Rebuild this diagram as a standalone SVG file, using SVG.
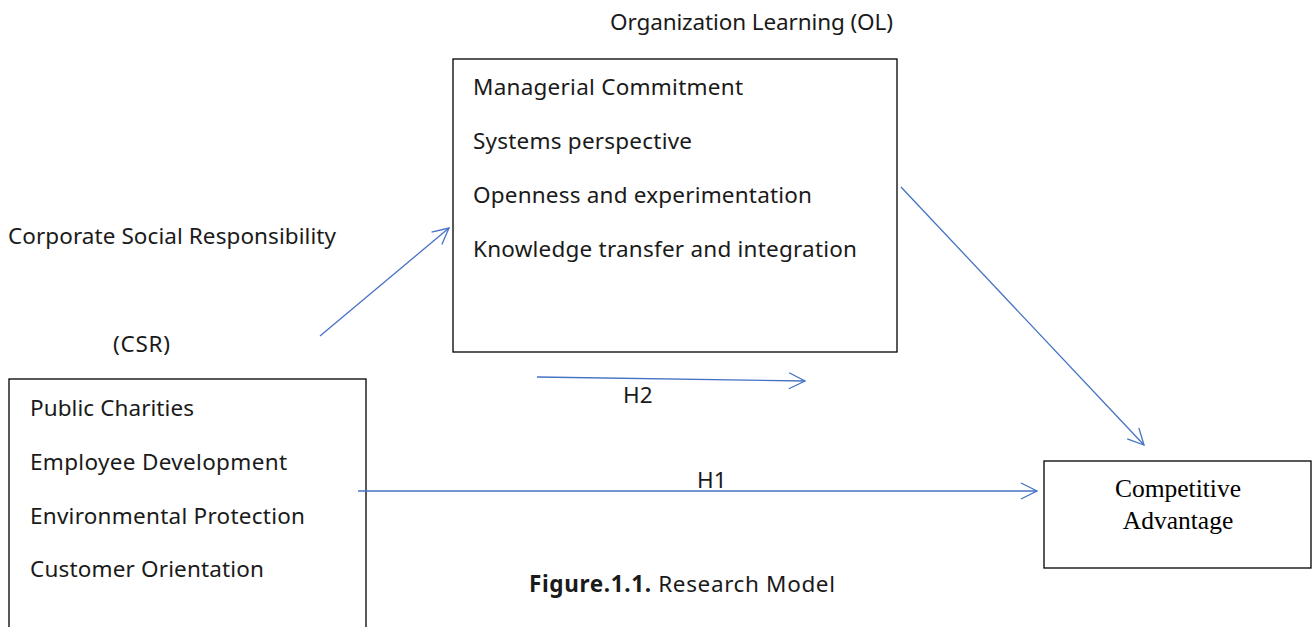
<svg xmlns="http://www.w3.org/2000/svg" width="1314" height="627" viewBox="0 0 1314 627">
  <style>
    .box { fill: #ffffff; stroke: #000000; stroke-width: 1.3; }
    .lbl { font-family: "Noto Sans", "Open Sans", sans-serif; font-size: 22.5px; fill: #1a1a1a; }
    .serif { font-family: "Liberation Serif", serif; font-size: 25.5px; fill: #000000; text-anchor: middle; }
    .link { stroke: #4472C4; stroke-width: 1.3; fill: none; marker-end: url(#chev); }
  </style>
  <defs>
    <marker id="chev" viewBox="0 0 20 20" refX="18" refY="10" markerWidth="20" markerHeight="20" markerUnits="userSpaceOnUse" orient="auto">
      <path d="M2,2 L18,10 L2,18" fill="none" stroke="#4472C4" stroke-width="1.3"/>
    </marker>
  </defs>

  <rect width="1314" height="627" fill="#ffffff"/>

  <!-- Organization Learning block -->
  <g id="node-ol">
    <text class="lbl" x="610" y="30" textLength="283">Organization Learning (OL)</text>
    <rect class="box" x="453" y="59" width="444" height="293"/>
    <text class="lbl" x="473" y="95" textLength="270">Managerial Commitment</text>
    <text class="lbl" x="473" y="149" textLength="219">Systems perspective</text>
    <text class="lbl" x="473" y="203" textLength="339">Openness and experimentation</text>
    <text class="lbl" x="473" y="257" textLength="384">Knowledge transfer and integration</text>
  </g>

  <!-- Corporate Social Responsibility block -->
  <g id="node-csr">
    <text class="lbl" x="8" y="244" textLength="328">Corporate Social Responsibility</text>
    <text class="lbl" x="113" y="352" textLength="57">(CSR)</text>
    <rect class="box" x="9" y="379" width="357" height="260"/>
    <text class="lbl" x="30" y="416" textLength="164">Public Charities</text>
    <text class="lbl" x="30" y="470" textLength="257">Employee Development</text>
    <text class="lbl" x="30" y="524" textLength="275">Environmental Protection</text>
    <text class="lbl" x="30" y="577" textLength="234">Customer Orientation</text>
  </g>

  <!-- Competitive Advantage block -->
  <g id="node-ca">
    <rect class="box" x="1044" y="461" width="267" height="107"/>
    <text class="serif" x="1178" y="497">Competitive</text>
    <text class="serif" x="1178" y="529">Advantage</text>
  </g>

  <!-- Connectors -->
  <g id="connectors">
    <line class="link" x1="320" y1="336" x2="449" y2="228"/>
    <line class="link" x1="537" y1="377" x2="805" y2="381"/>
    <line class="link" x1="901" y1="187" x2="1144" y2="445"/>
    <line class="link" x1="358" y1="491" x2="1037" y2="491"/>
    <text class="lbl" x="623" y="403">H2</text>
    <text class="lbl" x="697" y="488">H1</text>
  </g>

  <!-- Caption -->
  <g id="caption">
    <text class="lbl" x="529" y="592" font-size="20" textLength="306"><tspan font-weight="bold">Figure.1.1.</tspan> Research Model</text>
  </g>
</svg>
